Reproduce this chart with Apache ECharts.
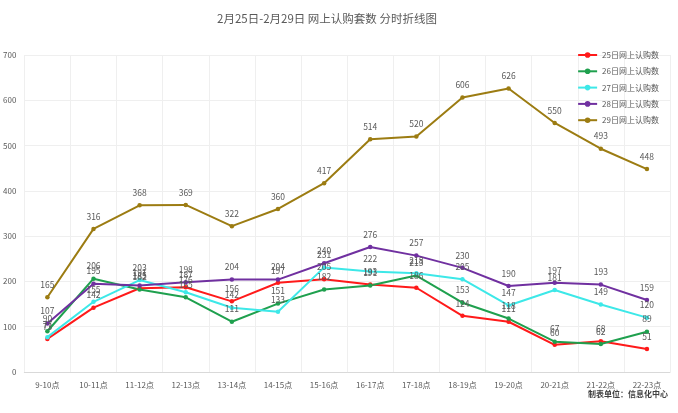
<!DOCTYPE html>
<html><head><meta charset="utf-8">
<script src="https://cdn.jsdelivr.net/npm/echarts@6/dist/echarts.min.js"></script>
<style>html,body{margin:0;padding:0;background:#fff}#c{width:678px;height:413px}</style>
</head><body><div id="c"></div>
<script>
const categories = ['9-10点','10-11点','11-12点','12-13点','13-14点','14-15点','15-16点','16-17点','17-18点','18-19点','19-20点','20-21点','21-22点','22-23点'];
const d25 = [73,142,185,187,156,197,205,193,186,124,111,60,68,51];
const d26 = [90,206,182,165,111,151,182,191,213,153,118,67,62,89];
const d27 = [77,155,203,176,142,133,231,222,218,205,147,181,149,120];
const d28 = [107,195,191,198,204,204,240,276,257,230,190,197,193,159];
const d29 = [165,316,368,369,322,360,417,514,520,606,626,550,493,448];
const names = ['25日网上认购数','26日网上认购数','27日网上认购数','28日网上认购数','29日网上认购数'];
const colors = ['#ff1a1a','#1fa04e','#3de8e8','#7030a0','#9c7c12'];
const yTicks = {min:0, max:700, interval:100};
const font = '"Noto Sans CJK SC","Noto Sans",sans-serif';
const datasets = [d25,d26,d27,d28,d29];
const chart = echarts.init(document.getElementById('c'));
chart.setOption({
  animation:false,
  textStyle:{fontFamily:font},
  title:{text:'2月25日-2月29日 网上认购套数 分时折线图', left:212, top:8,
    textStyle:{fontSize:11.5, fontWeight:'normal', color:'#595959', fontFamily:font}},
  legend:{orient:'vertical', right:14, top:46, itemWidth:19, itemHeight:7, itemGap:8.3,
    textStyle:{fontSize:8, color:'#595959', fontFamily:font}, data:names},
  grid:{left:23, right:8, top:55, bottom:41, containLabel:false},
  xAxis:{type:'category', data:categories, boundaryGap:true,
    axisLine:{lineStyle:{color:'#d9d9d9'}}, axisTick:{show:false},
    axisLabel:{fontSize:8, color:'#595959', margin:9, interval:0},
    splitLine:{show:true, lineStyle:{color:'#efefef'}}},
  yAxis:{type:'value', min:yTicks.min, max:yTicks.max, interval:yTicks.interval,
    axisLine:{show:false}, axisTick:{show:false},
    axisLabel:{fontSize:8, color:'#595959', margin:8},
    splitLine:{show:true, lineStyle:{color:'#efefef'}}},
  graphic:[{type:'text', right:10, top:390,
    style:{text:'制表单位：信息化中心', fontSize:8, fontWeight:'bold', fill:'#404040', fontFamily:font}}],
  series: datasets.map((d,i)=>({
    name:names[i], type:'line', data:d, symbol:'circle', symbolSize:4.5,
    lineStyle:{width:2, color:colors[i]}, itemStyle:{color:colors[i]},
    label:{show:true, position:'top', distance:6, fontSize:8.5, color:'#595959'}
  }))
});
</script></body></html>
